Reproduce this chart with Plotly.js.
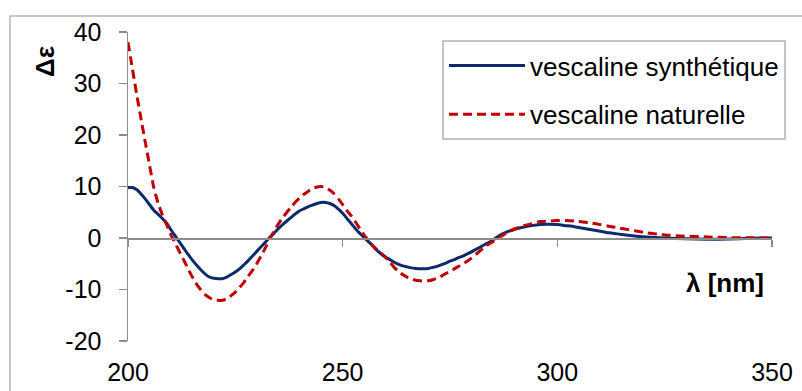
<!DOCTYPE html>
<html>
<head>
<meta charset="utf-8">
<script src="https://cdn.plot.ly/plotly-3.0.1.min.js"></script>
<style>html,body{margin:0;padding:0;background:#fff;}#chart{width:802px;height:391px;}</style>
</head>
<body>
<div id="chart"></div>
<script>
// Wavelength grid (nm)
const wavelength = [
  200,201,202,203,204,205,206,207,208,209,
  210,211,212,213,214,215,216,217,218,219,
  220,221,222,223,224,225,226,227,228,229,
  230,231,232,233,234,235,236,237,238,239,
  240,241,242,243,244,245,246,247,248,249,
  250,251,252,253,254,255,256,257,258,259,
  260,261,262,263,264,265,266,267,268,269,
  270,271,272,273,274,275,276,277,278,279,
  280,281,282,283,284,285,286,287,288,289,290,
  292,294,296,298,300,302,304,306,308,310,312,314,316,318,320,
  325,330,335,340,345,350
];
// vescaline synthétique
const synthetique = [
  9.8,9.8,9.4,8.6,7.6,6.5,5.4,4.6,3.8,2.9,
  1.6,0.4,-0.8,-2.0,-3.2,-4.3,-5.3,-6.2,-7.0,-7.6,
  -7.8,-7.9,-7.9,-7.6,-7.1,-6.6,-6.0,-5.2,-4.4,-3.5,
  -2.6,-1.7,-0.8,0.1,0.9,1.8,2.6,3.3,4.0,4.7,
  5.3,5.7,6.1,6.4,6.7,6.9,6.9,6.7,6.3,5.6,
  4.8,3.8,2.8,1.8,0.9,0.1,-0.7,-1.5,-2.4,-3.1,
  -3.7,-4.2,-4.7,-5.1,-5.4,-5.6,-5.8,-5.9,-5.95,-5.95,
  -5.9,-5.7,-5.5,-5.2,-4.9,-4.5,-4.2,-3.8,-3.5,-3.1,
  -2.7,-2.2,-1.8,-1.3,-0.9,-0.4,0.2,0.7,1.1,1.4,1.7,
  2.1,2.4,2.6,2.65,2.6,2.4,2.2,1.9,1.6,1.3,1.0,0.8,0.6,0.4,0.25,
  0.0,-0.15,-0.25,-0.2,-0.05,0.0
];
// vescaline naturelle
const naturelle = [
  38,33,28,23.3,18.7,14.2,9.8,6.8,4.5,2.6,
  0.6,-1.0,-2.7,-4.3,-6.0,-7.6,-9.0,-10.1,-11.0,-11.6,
  -12.0,-12.1,-12.1,-11.8,-11.2,-10.5,-9.6,-8.6,-7.4,-6.3,
  -5.0,-3.5,-1.9,-0.2,1.3,2.7,3.9,5.0,6.0,7.0,
  7.8,8.5,9.1,9.6,9.9,10.0,9.8,9.3,8.6,7.6,
  6.5,5.3,4.3,3.1,1.8,0.6,-0.5,-1.5,-2.3,-3.0,
  -3.8,-4.7,-5.7,-6.5,-7.1,-7.6,-7.9,-8.2,-8.3,-8.35,
  -8.3,-8.1,-7.8,-7.4,-6.9,-6.5,-6.0,-5.5,-5.0,-4.5,
  -3.9,-3.2,-2.5,-1.8,-1.2,-0.7,-0.2,0.4,0.9,1.35,1.75,
  2.3,2.8,3.2,3.3,3.4,3.4,3.3,3.1,2.9,2.6,2.3,2.0,1.7,1.4,1.1,
  0.6,0.35,0.2,0.08,0.03,0.0
];
const seriesNames = ['vescaline synthétique', 'vescaline naturelle'];
const xTicks = [200, 250, 300, 350];
const yTicks = [-20, -10, 0, 10, 20, 30, 40];
const yTickText = ['-20', '-10', '0', '10', '20', '30', '40'];

const FONT = 'Liberation Sans, Arial, sans-serif';
const L = 128, R = 30, T = 32, B = 50, W = 802, H = 391;
const pw = W - L - R, ph = H - T - B;
const px = v => (v - L) / pw;
const py = v => (H - B - v) / ph;

const traces = [
  {x: wavelength, y: synthetique, name: seriesNames[0], type: 'scatter', mode: 'lines',
   line: {color: '#0c2a6c', width: 3, shape: 'spline', smoothing: 0.5}, legendgroup: 'a', hoverinfo: 'skip'},
  {x: wavelength, y: naturelle, name: seriesNames[1], type: 'scatter', mode: 'lines',
   line: {color: '#c00000', width: 3, dash: '9px,5px', shape: 'spline', smoothing: 0.5}, legendgroup: 'b', hoverinfo: 'skip'},
  {x: wavelength, y: synthetique, xaxis: 'x2', type: 'scatter', mode: 'lines', opacity: 0,
   showlegend: false, hoverinfo: 'skip', line: {width: 0}}
];

const layout = {
  width: W, height: H,
  margin: {l: L, r: R, t: T, b: B, pad: 0},
  paper_bgcolor: '#ffffff', plot_bgcolor: '#ffffff',
  font: {family: FONT, size: 25, color: '#000000'},
  showlegend: true,
  xaxis: {
    range: [200, 350], anchor: 'free', position: 1/3,
    showline: true, linecolor: '#8c8c8c', linewidth: 1.5,
    ticks: 'outside', ticklen: 7, tickwidth: 1.5, tickcolor: '#8c8c8c',
    tickvals: xTicks, showticklabels: false, showgrid: false, zeroline: false
  },
  xaxis2: {
    range: [200, 350], overlaying: 'x', anchor: 'y', side: 'bottom',
    showline: false, ticks: '', tickvals: xTicks, ticktext: xTicks.map(String),
    ticklabelstandoff: 14, showgrid: false, zeroline: false,
    tickfont: {family: FONT, size: 25, color: '#000'}
  },
  yaxis: {
    range: [-20, 40], tickvals: yTicks, ticktext: yTickText,
    showline: true, linecolor: '#8c8c8c', linewidth: 1.5,
    ticks: 'outside', ticklen: 8, tickwidth: 1.5, tickcolor: '#8c8c8c',
    ticklabelstandoff: 12, showgrid: false, zeroline: false,
    tickfont: {family: FONT, size: 25, color: '#000'}
  },
  legend: {
    x: px(442), y: py(40), xanchor: 'left', yanchor: 'top',
    bgcolor: '#ffffff', bordercolor: '#c4c4c4', borderwidth: 2,
    font: {family: FONT, size: 26, color: '#000'},
    traceorder: 'grouped', tracegroupgap: 12, itemwidth: 76
  },
  annotations: [
    {text: '<b>Δε</b>', xref: 'paper', yref: 'paper', x: px(45), y: py(62),
     xanchor: 'center', yanchor: 'middle', textangle: -90, showarrow: false,
     font: {family: FONT, size: 26, color: '#000'}},
    {text: '<b>λ [nm]</b>', xref: 'paper', yref: 'paper', x: px(766), y: py(283),
     xanchor: 'right', yanchor: 'middle', showarrow: false,
     font: {family: FONT, size: 26, color: '#000'}}
  ],
  shapes: [
    {type: 'rect', xref: 'paper', yref: 'paper', x0: px(10), x1: px(820), y0: py(410), y1: py(16),
     line: {color: '#b4b4b4', width: 1.5}, fillcolor: 'rgba(0,0,0,0)', layer: 'below'}
  ]
};

Plotly.newPlot('chart', traces, layout, {staticPlot: true, displayModeBar: false});
</script>
</body>
</html>
